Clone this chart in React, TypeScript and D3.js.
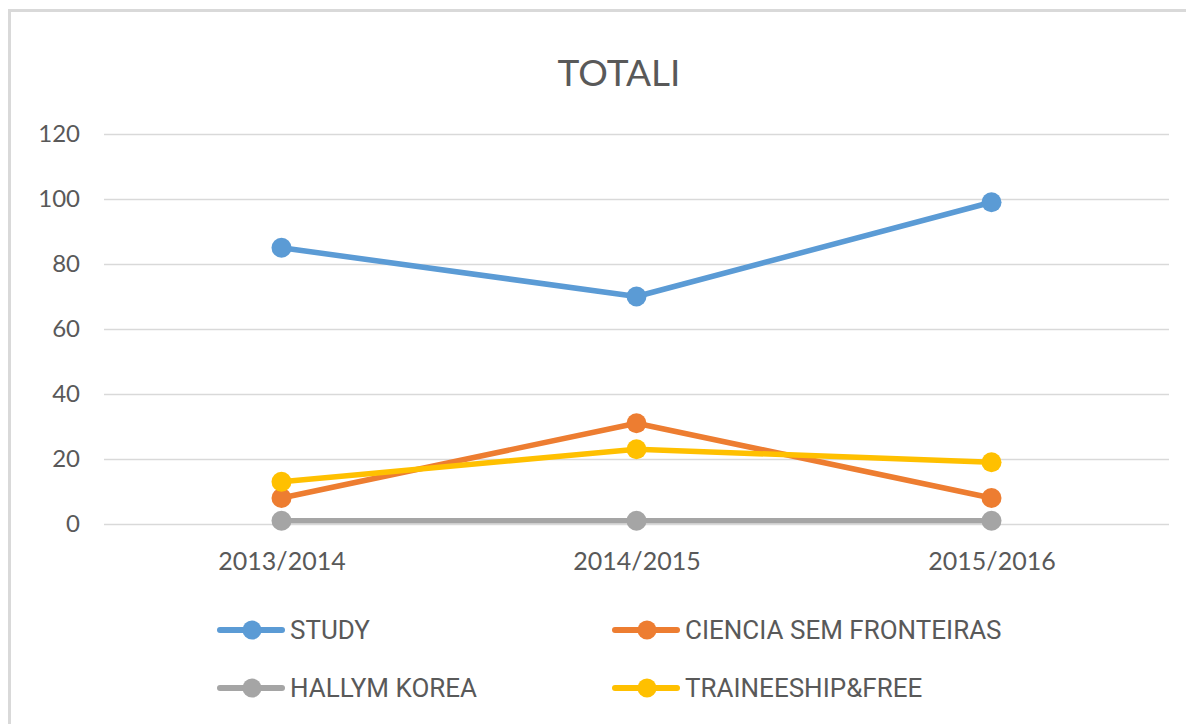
import React, { useEffect, useRef } from 'react';
import * as d3 from 'd3';

const categories = ['2013/2014', '2014/2015', '2015/2016'];
const seriesNames = ['STUDY', 'CIENCIA SEM FRONTEIRAS', 'HALLYM KOREA', 'TRAINEESHIP&FREE'];
const study = [85, 70, 99];
const ciencia = [8, 31, 8];
const hallym = [1, 1, 1];
const traineeship = [13, 23, 19];
const yTicks = [0, 20, 40, 60, 80, 100, 120];
const colors = ['#5B9BD5', '#ED7D31', '#A5A5A5', '#FFC000'];

const App = () => {
  const ref = useRef<SVGSVGElement>(null);

  useEffect(() => {
    document.body.style.margin = '0';
    const svg = d3.select(ref.current);
    svg.selectAll('*').remove();

    const W = 1186;
    const H = 724;
    const margin = { top: 134, right: 17, bottom: 200, left: 104 };
    const font = 'Lato, "Open Sans", sans-serif';
    const textColor = '#595959';

    // chart frame
    svg.append('rect')
      .attr('x', 9.5).attr('y', 10.5)
      .attr('width', W + 20).attr('height', H + 20)
      .attr('fill', '#fff')
      .attr('stroke', '#d9d9d9').attr('stroke-width', 3);

    const x = d3.scalePoint<string>()
      .domain(categories)
      .range([margin.left, W - margin.right])
      .padding(0.5);

    const y = d3.scaleLinear()
      .domain([0, 120])
      .range([H - margin.bottom, margin.top]);

    // title
    svg.append('text')
      .attr('x', 619).attr('y', 86)
      .attr('text-anchor', 'middle')
      .style('font-family', font)
      .style('font-size', '37px')
      .attr('fill', textColor)
      .text('TOTALI');

    // gridlines + y labels
    const yAxis = svg.append('g')
      .attr('transform', `translate(${margin.left},0)`)
      .call(d3.axisLeft(y).tickValues(yTicks).tickSize(-(W - margin.left - margin.right)).tickPadding(24));
    yAxis.select('.domain').remove();
    yAxis.selectAll('.tick line').attr('stroke', '#d9d9d9').attr('stroke-width', 1.3);
    yAxis.selectAll('.tick text')
      .attr('fill', textColor)
      .style('font-family', font)
      .style('font-size', '24px');

    // x labels
    const xAxis = svg.append('g')
      .attr('transform', `translate(0,${y(0)})`)
      .call(d3.axisBottom(x).tickSize(0).tickPadding(28));
    xAxis.select('.domain').remove();
    xAxis.selectAll('.tick text')
      .attr('fill', textColor)
      .style('font-family', font)
      .style('font-size', '25px');

    const data = [study, ciencia, hallym, traineeship];
    const line = d3.line<number>()
      .x((_, i) => x(categories[i]) as number)
      .y(d => y(d));

    data.forEach((values, s) => {
      const g = svg.append('g');
      g.append('path')
        .datum(values)
        .attr('d', line)
        .attr('fill', 'none')
        .attr('stroke', colors[s])
        .attr('stroke-width', 5.5)
        .attr('stroke-linejoin', 'round')
        .attr('stroke-linecap', 'round');
      g.selectAll('circle')
        .data(values)
        .enter()
        .append('circle')
        .attr('cx', (_, i) => x(categories[i]) as number)
        .attr('cy', d => y(d))
        .attr('r', 10)
        .attr('fill', colors[s]);
    });

    // legend
    const legendCols = [217, 612];
    const legendRows = [630, 688];
    seriesNames.forEach((name, s) => {
      const lx = legendCols[s % 2];
      const ly = legendRows[Math.floor(s / 2)];
      const g = svg.append('g').attr('transform', `translate(${lx},${ly})`);
      g.append('line')
        .attr('x1', 3).attr('x2', 65)
        .attr('y1', 0).attr('y2', 0)
        .attr('stroke', colors[s])
        .attr('stroke-width', 6)
        .attr('stroke-linecap', 'round');
      g.append('circle')
        .attr('cx', 35).attr('cy', 0)
        .attr('r', 9.5)
        .attr('fill', colors[s]);
      g.append('text')
        .attr('x', 73).attr('y', 9)
        .style('font-family', '"Liberation Sans Narrow", "Roboto", sans-serif')
        .style('font-size', '26px')
        .attr('fill', textColor)
        .text(name);
    });
  }, []);

  return <svg ref={ref} width={1186} height={724} style={{ display: 'block' }} />;
};

export default App;
